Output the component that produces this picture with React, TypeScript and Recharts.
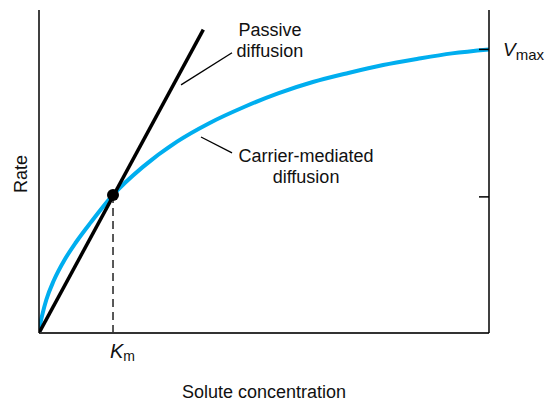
import React from 'react';
import { ComposedChart, Line, XAxis, YAxis, ReferenceLine, ReferenceDot, Label } from 'recharts';

// Solute concentration (in units of Km) and rate (in units of Vmax)
const carrierX = [0, 0.02, 0.05, 0.1, 0.2, 0.35, 0.5, 0.7, 1.0, 1.4, 1.865, 2.3, 2.77, 3.23, 3.7, 4.18, 4.65, 5.12, 5.58, 6.08];
const carrierY = [0, 0.035, 0.07, 0.118, 0.185, 0.26, 0.32, 0.39, 0.487, 0.585, 0.675, 0.74, 0.797, 0.845, 0.885, 0.917, 0.945, 0.967, 0.986, 1.0];
const passiveX = [0, 2.22];
const passiveY = [0, 1.07];
const kmValue = 1;
const kmRate = 0.487;
const rightTicks = [0.48, 1];
const xDomain = [0, 6.08];
const yDomain = [0, 1.139];

const carrierData = carrierX.map((x, i) => ({ x, y: carrierY[i] }));
const passiveData = passiveX.map((x, i) => ({ x, y: passiveY[i] }));

const FONT = '"Liberation Sans", Arial, Helvetica, sans-serif';

const RightTick = (props: any) => {
  const { x, y, payload } = props;
  return (
    <g>
      <line x1={x - 10} x2={x} y1={y} y2={y} stroke="#000" strokeWidth={1.5} />
      {payload.value === 1 && (
        <text x={x + 14} y={y + 7} fontFamily={FONT} fontSize={19} fill="#111">
          <tspan fontStyle="italic">V</tspan>
          <tspan fontSize={15} dy={4}>max</tspan>
        </text>
      )}
    </g>
  );
};

const KmTick = (props: any) => {
  const { x } = props;
  return (
    <text x={x - 3} y={358} fontFamily={FONT} fontSize={20} fill="#111">
      <tspan fontStyle="italic">K</tspan>
      <tspan fontSize={14} dy={3}>m</tspan>
    </text>
  );
};

const annotation = (lines: string[]) => (p: any) => (
  <text x={p.cx} y={p.cy} fontFamily={FONT} fontSize={18} fill="#111" textAnchor="middle">
    {lines.map((l, i) => (
      <tspan key={i} x={p.cx} dy={i === 0 ? 0 : 21}>{l}</tspan>
    ))}
  </text>
);

export default function App() {
  return (
    <div style={{ position: 'absolute', left: 0, top: 0, width: 546, height: 402, background: '#fff' }}>
      <ComposedChart width={546} height={402} margin={{ top: 10, right: 0, bottom: 0, left: 0 }}>
        <XAxis
          dataKey="x"
          type="number"
          domain={xDomain}
          ticks={[kmValue]}
          tick={<KmTick />}
          tickLine={false}
          axisLine={{ stroke: '#333', strokeWidth: 2 }}
          height={69}
          allowDataOverflow
        >
          <Label
            content={(p: any) => (
              <text
                x={p.viewBox.x + p.viewBox.width / 2}
                y={p.viewBox.y + 65}
                textAnchor="middle"
                fontFamily={FONT}
                fontSize={18}
                fill="#111"
              >
                Solute concentration
              </text>
            )}
          />
        </XAxis>
        <YAxis
          yAxisId="left"
          type="number"
          domain={yDomain}
          width={39}
          tick={false}
          tickLine={false}
          axisLine={{ stroke: '#000', strokeWidth: 1.5 }}
          allowDataOverflow
        >
          <Label
            content={() => (
              <text
                x={27}
                y={174}
                transform="rotate(-90 27 174)"
                textAnchor="middle"
                fontFamily={FONT}
                fontSize={18}
                fill="#111"
              >
                Rate
              </text>
            )}
          />
        </YAxis>
        <YAxis
          yAxisId="right"
          orientation="right"
          type="number"
          domain={yDomain}
          width={57}
          ticks={rightTicks}
          tick={<RightTick />}
          tickLine={false}
          tickSize={0}
          tickMargin={0}
          axisLine={{ stroke: '#000', strokeWidth: 1.5 }}
          allowDataOverflow
        />
        <ReferenceLine
          yAxisId="left"
          segment={[{ x: kmValue, y: kmRate }, { x: kmValue, y: 0 }]}
          stroke="#000"
          strokeWidth={1.3}
          strokeDasharray="8 5"
        />
        <ReferenceLine
          yAxisId="left"
          segment={[{ x: 1.919, y: 0.875 }, { x: 2.608, y: 0.988 }]}
          stroke="#000"
          strokeWidth={1.3}
        />
        <ReferenceLine
          yAxisId="left"
          segment={[{ x: 2.189, y: 0.691 }, { x: 2.608, y: 0.635 }]}
          stroke="#000"
          strokeWidth={1.3}
        />
        <Line
          yAxisId="left"
          data={carrierData}
          dataKey="y"
          type="monotone"
          stroke="#00AEEF"
          strokeWidth={4}
          dot={false}
          activeDot={false}
          isAnimationActive={false}
        />
        <Line
          yAxisId="left"
          data={passiveData}
          dataKey="y"
          type="linear"
          stroke="#000"
          strokeWidth={3.5}
          dot={false}
          activeDot={false}
          isAnimationActive={false}
        />
        <ReferenceDot yAxisId="left" x={kmValue} y={kmRate} r={6} fill="#000" stroke="none" />
        <ReferenceDot yAxisId="left" x={3.12} y={1.048} r={1} shape={annotation(['Passive', 'diffusion'])} />
        <ReferenceDot yAxisId="left" x={3.608} y={0.603} r={1} shape={annotation(['Carrier-mediated', 'diffusion'])} />
      </ComposedChart>
    </div>
  );
}
